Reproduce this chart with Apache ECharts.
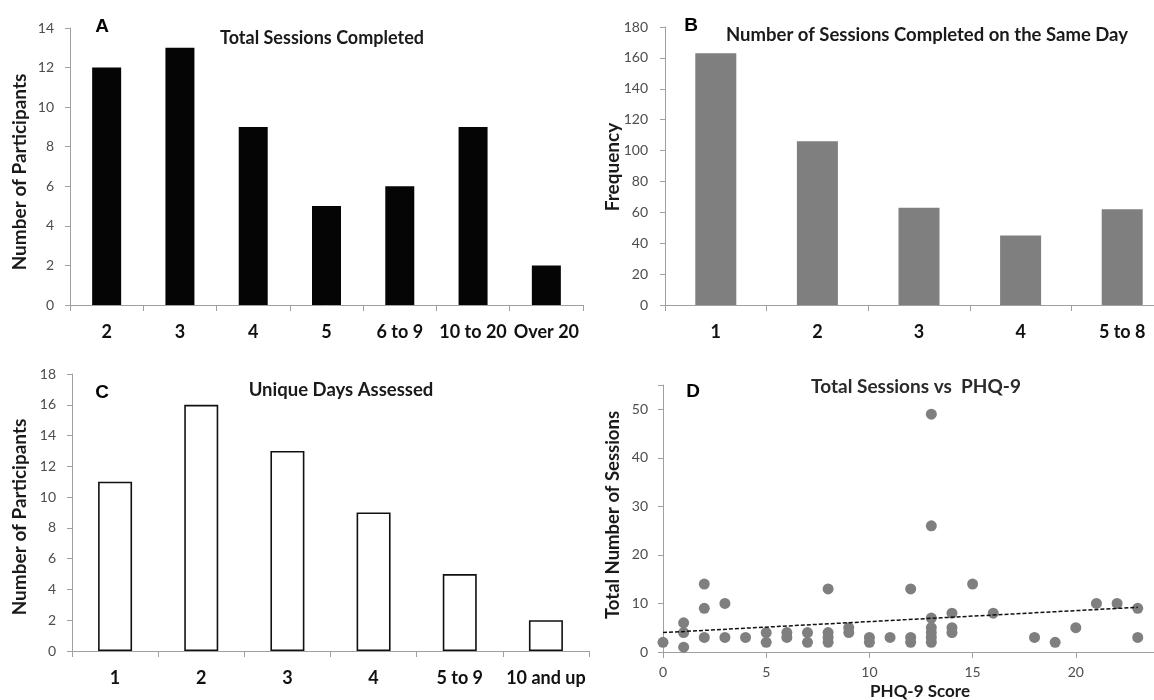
<!DOCTYPE html>
<html>
<head>
<meta charset="utf-8">
<script src="https://cdn.jsdelivr.net/npm/echarts@6/dist/echarts.min.js"></script>
<style>
html,body{margin:0;padding:0;background:#fff;}
#chart{width:1154px;height:700px;}
</style>
</head>
<body>
<div id="chart"></div>
<script>
// Panel A: Total Sessions Completed
var catsA = ['2', '3', '4', '5', '6 to 9', '10 to 20', 'Over 20'];
var valsA = [12, 13, 9, 5, 6, 9, 2];
// Panel B: Number of Sessions Completed on the Same Day
var catsB = ['1', '2', '3', '4', '5 to 8'];
var valsB = [163, 106, 63, 45, 62];
// Panel C: Unique Days Assessed
var catsC = ['1', '2', '3', '4', '5 to 9', '10 and up'];
var valsC = [11, 16, 13, 9, 5, 2];
// Panel D: Total Sessions vs PHQ-9 (PHQ-9 score, total sessions)
var phqScores = [0, 1, 1, 1, 2, 2, 2, 3, 3, 4, 5, 5, 6, 6, 7, 7, 8, 8, 8, 8, 9, 9, 10, 10, 11, 12, 12, 12,
  13, 13, 13, 13, 13, 13, 13, 14, 14, 14, 15, 16, 18, 19, 20, 21, 22, 23, 23];
var sessionTotals = [2, 1, 4, 6, 3, 9, 14, 3, 10, 3, 4, 2, 4, 3, 4, 2, 13, 4, 3, 2, 5, 4, 3, 2, 3, 13, 3, 2,
  49, 26, 7, 5, 4, 3, 2, 8, 5, 4, 14, 8, 3, 2, 5, 10, 10, 9, 3];
var trendX = [0, 23];
var trendY = [4.0, 9.2];

var scatterData = phqScores.map(function (x, i) { return [x, sessionTotals[i]]; });
var trendData = trendX.map(function (x, i) { return [x, trendY[i]]; });

var chart = echarts.init(document.getElementById('chart'), null, {renderer: 'canvas'});

var axisLineGrey = '#a0a0a0';
var tickLabelColor = '#4d4d4d';
var FONT = 'Lato, "Open Sans", sans-serif';

function catAxis(gridIndex, data) {
  return {
    type: 'category', gridIndex: gridIndex, data: data,
    axisLine: {lineStyle: {color: axisLineGrey, width: 1}},
    axisTick: {show: true, length: 6, lineStyle: {color: axisLineGrey}},
    axisLabel: {color: '#111', fontFamily: FONT, fontWeight: 'bold', fontSize: 18, margin: 18, interval: 0}
  };
}
function valAxis(gridIndex, min, max, interval, margin) {
  return {
    type: 'value', gridIndex: gridIndex, min: min, max: max, interval: interval, position: 'left',
    axisLine: {show: true, onZero: false, lineStyle: {color: axisLineGrey, width: 1}},
    axisTick: {show: true, length: 5, lineStyle: {color: axisLineGrey}},
    splitLine: {show: false},
    axisLabel: {color: tickLabelColor, fontFamily: FONT, fontSize: 14, margin: margin}
  };
}

function txt(text, x, y, size, opts) {
  opts = opts || {};
  return {
    type: 'text', x: x, y: y, rotation: opts.rotation || 0, z: 100,
    style: {
      text: text, fill: opts.color || '#1a1a1a',
      font: (opts.weight || 'bold') + ' ' + size + 'px ' + (opts.family || FONT),
      textAlign: 'center', textVerticalAlign: 'middle', align: 'center', verticalAlign: 'middle'
    }
  };
}

var dYAxis = valAxis(3, 0, 55, 10, 15);
dYAxis.axisLabel.formatter = function (v) { return v % 10 === 0 ? String(v) : ''; };

var dXAxis = {
  type: 'value', gridIndex: 3, min: 0, max: 25, interval: 5, position: 'bottom',
  axisLine: {show: true, onZero: false, lineStyle: {color: axisLineGrey, width: 1}},
  axisTick: {show: true, length: 6, lineStyle: {color: axisLineGrey}},
  splitLine: {show: false},
  axisLabel: {color: tickLabelColor, fontFamily: FONT, fontSize: 14, margin: 13}
};

var option = {
  backgroundColor: '#ffffff',
  animation: false,
  grid: [
    {left: 70, top: 28, width: 513, height: 277, outerBoundsMode: 'none', containLabel: false},
    {left: 665, top: 27, width: 508, height: 278, outerBoundsMode: 'none', containLabel: false},
    {left: 72, top: 374, width: 517, height: 277, outerBoundsMode: 'none', containLabel: false},
    {left: 663, top: 385, width: 516, height: 267, outerBoundsMode: 'none', containLabel: false}
  ],
  xAxis: [
    catAxis(0, catsA),
    catAxis(1, catsB),
    catAxis(2, catsC),
    dXAxis
  ],
  yAxis: [
    valAxis(0, 0, 14, 2, 16),
    valAxis(1, 0, 180, 20, 17),
    valAxis(2, 0, 18, 2, 16),
    dYAxis
  ],
  series: [
    {type: 'bar', xAxisIndex: 0, yAxisIndex: 0, data: valsA, barWidth: 29,
      itemStyle: {color: '#050505'}},
    {type: 'bar', xAxisIndex: 1, yAxisIndex: 1, data: valsB, barWidth: 41,
      itemStyle: {color: '#7f7f7f'}},
    {type: 'bar', xAxisIndex: 2, yAxisIndex: 2, data: valsC, barWidth: 34,
      itemStyle: {color: '#ffffff', borderColor: '#111111', borderWidth: 1.6}},
    {type: 'scatter', xAxisIndex: 3, yAxisIndex: 3, data: scatterData, symbolSize: 11,
      itemStyle: {color: '#7f7f7f', opacity: 1}, z: 3},
    {type: 'line', xAxisIndex: 3, yAxisIndex: 3, data: trendData, symbol: 'none',
      lineStyle: {color: '#111111', width: 1.5, type: [4, 2]}, z: 5}
  ],
  graphic: [
    txt('A', 102, 27, 19, {family: '"Liberation Sans", Arial, sans-serif', color: '#000'}),
    txt('B', 691, 26, 19, {family: '"Liberation Sans", Arial, sans-serif', color: '#000'}),
    txt('C', 102, 393, 19, {family: '"Liberation Sans", Arial, sans-serif', color: '#000'}),
    txt('D', 693, 392, 19, {family: '"Liberation Sans", Arial, sans-serif', color: '#000'}),
    txt('Total Sessions Completed', 322, 38, 18),
    txt('Number of Sessions Completed on the Same Day', 927, 35, 18.5),
    txt('Unique Days Assessed', 341, 390, 18.5),
    txt('Total Sessions vs  PHQ-9', 916, 387, 19, {color: '#2a2a2a'}),
    txt('Number of Participants', 20, 172, 19, {rotation: Math.PI / 2}),
    txt('Frequency', 613, 167, 19, {rotation: Math.PI / 2}),
    txt('Number of Participants', 20, 517, 19, {rotation: Math.PI / 2}),
    txt('Total Number of Sessions', 613, 515, 18.5, {rotation: Math.PI / 2}),
    txt('PHQ-9 Score', 920, 692, 17)
  ]
};

chart.setOption(option);
</script>
</body>
</html>
